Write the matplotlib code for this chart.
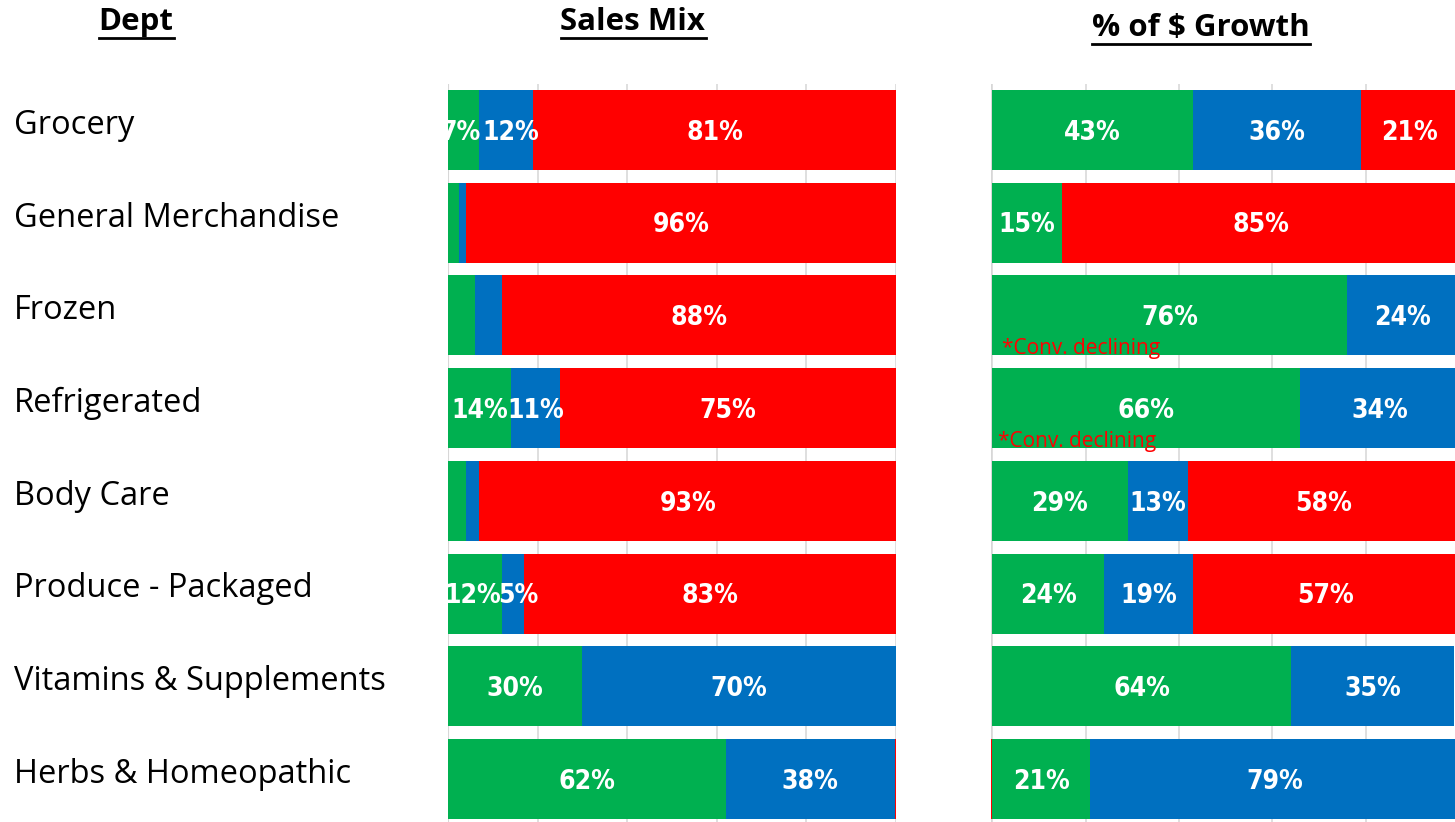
import matplotlib
matplotlib.use("Agg")
import matplotlib.pyplot as plt
import matplotlib.transforms as mtransforms
import numpy as np

depts = ["Grocery", "General Merchandise", "Frozen", "Refrigerated", "Body Care",
         "Produce - Packaged", "Vitamins & Supplements", "Herbs & Homeopathic"]

# sales mix (%): green / blue / red
mix_green = [7, 2.5, 6, 14, 4, 12, 30, 62]
mix_blue = [12, 1.5, 6, 11, 3, 5, 70, 37.7]
mix_red = [81, 96, 88, 75, 93, 83, 0, 0.3]
mix_green_lbl = ["7%", "", "", "14%", "", "12%", "30%", "62%"]
mix_blue_lbl = ["12%", "", "", "11%", "", "5%", "70%", "38%"]
mix_red_lbl = ["81%", "96%", "88%", "75%", "93%", "83%", "", ""]

# % of $ growth: green / blue / red
gr_green = [43, 15, 76, 66, 29, 24, 64, 21]
gr_blue = [36, 0, 24, 34, 13, 19, 35, 79]
gr_red = [21, 85, 0, 0, 58, 57, 0, -0.3]
gr_green_lbl = ["43%", "15%", "76%", "66%", "29%", "24%", "64%", "21%"]
gr_blue_lbl = ["36%", "", "24%", "34%", "13%", "19%", "35%", "79%"]
gr_red_lbl = ["21%", "85%", "", "", "58%", "57%", "", ""]

notes = {2: "*Conv. declining", 3: "*Conv. declining"}

GREEN = "#00B050"
BLUE = "#0070C0"
RED = "#FF0000"

W, H = 1455, 822
fig = plt.figure(figsize=(W / 100, H / 100), dpi=100)

top, bottom = 83.6, 825.4
ax1 = fig.add_axes([448 / W, 1 - bottom / H, 448 / W, (bottom - top) / H])
ax2 = fig.add_axes([991 / W, 1 - bottom / H, 468 / W, (bottom - top) / H])

lbl_font = dict(family="DejaVu Sans", fontstretch="condensed", fontsize=19,
                fontweight="bold", color="white", ha="center", va="center")

y = np.arange(len(depts))
bh = 0.863

# small label nudges (x in data units) where Excel pushed crowded labels apart
nudge = {(0, 5, 1): 1.2, (0, 5, 0): -0.5, (0, 0, 1): 1.0, (0, 0, 0): -0.8}


def draw(ax, k, green, blue, red, gl, bl, rl, x0=0):
    green = np.array(green, float)
    blue = np.array(blue, float)
    red = np.array(red, float)
    ax.barh(y, green, height=bh, color=GREEN, zorder=2)
    ax.barh(y, blue, left=green, height=bh, color=BLUE, zorder=2)
    red_left = np.where(red >= 0, green + blue, 0)
    ax.barh(y, red, left=red_left, height=bh, color=RED, zorder=2)
    for i in y:
        segs = ((0, green[i], gl[i]), (green[i], blue[i], bl[i]),
                (green[i] + blue[i], red[i], rl[i]))
        for j, (left, w, txt) in enumerate(segs):
            if txt:
                dx = nudge.get((k, i, j), 0)
                ax.text(left + w / 2 + dx, i + 0.03, txt, zorder=3, clip_on=True,
                        **lbl_font)
    ax.set_xlim(x0, 100)
    ax.set_ylim(len(depts) - 0.5, -0.5)
    ax.set_xticks(np.arange(0, 101, 20))
    ax.grid(axis="x", color="#D9D9D9", lw=1.2, zorder=0)
    ax.tick_params(left=False, bottom=False, labelleft=False, labelbottom=False)
    for s in ax.spines.values():
        s.set_visible(False)
    ax.axvline(x0, color="#D0D0D0", lw=1.5, zorder=1)


draw(ax1, 0, mix_green, mix_blue, mix_red, mix_green_lbl, mix_blue_lbl, mix_red_lbl)
draw(ax2, 1, gr_green, gr_blue, gr_red, gr_green_lbl, gr_blue_lbl, gr_red_lbl, x0=-0.25)

for i, txt in notes.items():
    ax2.text(2.1 if i == 2 else 1.3, i + 0.36, txt, color=RED, fontsize=15,
             family="Open Sans", ha="left", va="center", zorder=4)

# department labels
trans = mtransforms.blended_transform_factory(fig.transFigure, ax1.transData)
for i, d in enumerate(depts):
    fig.text(14 / W, i - 0.05, d, transform=trans, fontsize=23.5,
             family="Open Sans", ha="left", va="center")

# headers
hdr = dict(fontsize=22.5, fontweight="bold", family="Open Sans", ha="center", va="center")
for x, yy, t in ((136, 22, "Dept"), (633, 22, "Sales Mix"), (1201, 28, "% of $ Growth")):
    txt = fig.text(x / W, 1 - yy / H, t, **hdr)
    fig.canvas.draw()
    bb = txt.get_window_extent()
    fig.add_artist(plt.Line2D([bb.x0 / W, bb.x1 / W], [(bb.y0 - 1) / H, (bb.y0 - 1) / H],
                              color="black", lw=2, transform=fig.transFigure))

fig.savefig("out.png", dpi=100)
